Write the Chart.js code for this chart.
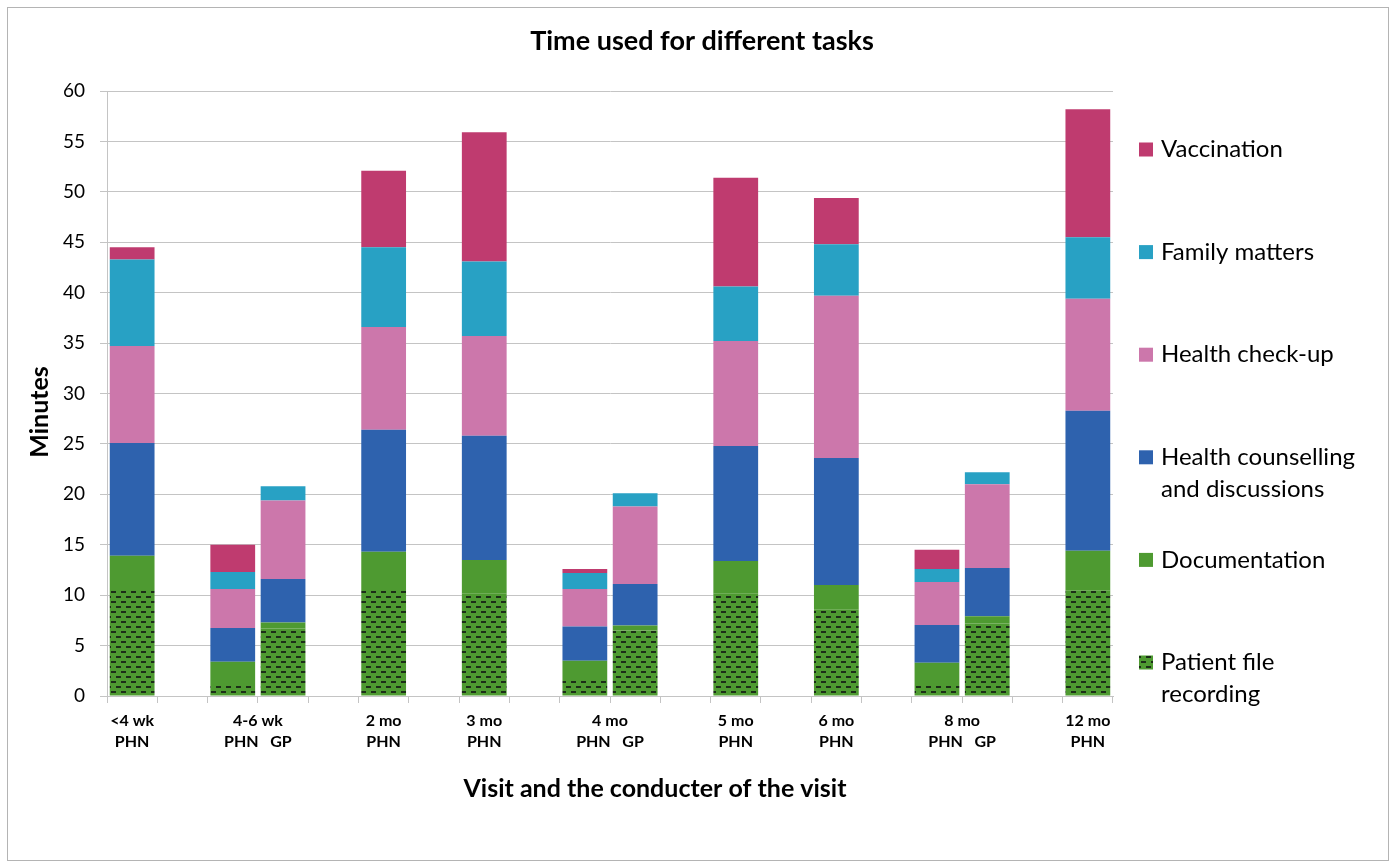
<!DOCTYPE html>
<html>
<head>
<meta charset="utf-8">
<title>Time used for different tasks</title>
<script src="https://cdn.jsdelivr.net/npm/chart.js@4.4.1/dist/chart.umd.min.js"></script>
<style>
  html, body { margin: 0; padding: 0; background: #ffffff; }
  #wrap { position: relative; width: 1396px; height: 867px; }
</style>
</head>
<body>
<div id="wrap"><canvas id="chart" width="1396" height="867"></canvas></div>
<script>
// One entry per bar: the visit and who conducted it
const visits     = ['<4 wk', '4-6 wk', '4-6 wk', '2 mo', '3 mo', '4 mo', '4 mo', '5 mo', '6 mo', '8 mo', '8 mo', '12 mo'];
const conductors = ['PHN', 'PHN', 'GP', 'PHN', 'PHN', 'PHN', 'GP', 'PHN', 'PHN', 'PHN', 'GP', 'PHN'];

// Minutes per task (stacked bottom to top)
const patientFile   = [10.7, 1.0, 6.7, 10.6, 10.2, 1.5, 6.5, 10.2, 8.6, 1.1, 7.2, 10.5];
const documentation = [3.2, 2.4, 0.6, 3.7, 3.3, 2.0, 0.5, 3.2, 2.4, 2.2, 0.7, 3.9];
const counselling   = [11.2, 3.35, 4.3, 12.1, 12.3, 3.4, 4.1, 11.4, 12.6, 3.75, 4.8, 13.9];
const checkup       = [9.6, 3.85, 7.8, 10.2, 9.9, 3.7, 7.7, 10.4, 16.1, 4.25, 8.3, 11.1];
const family        = [8.6, 1.7, 1.4, 7.9, 7.4, 1.6, 1.3, 5.4, 5.1, 1.3, 1.2, 6.1];
const vaccination   = [1.2, 2.7, 0, 7.6, 12.8, 0.4, 0, 10.8, 4.6, 1.9, 0, 12.7];

const seriesNames = ['Patient file\nrecording', 'Documentation', 'Health counselling\nand discussions',
                     'Health check-up', 'Family matters', 'Vaccination'];
const seriesValues = [patientFile, documentation, counselling, checkup, family, vaccination];
const seriesColors = ['#4e9a31', '#4e9a31', '#2e62ae', '#cc77ab', '#28a1c4', '#bf3b6f'];

const yMin = 0, yMax = 60, yStep = 5;

const chartTitle = 'Time used for different tasks';
const xTitle = 'Visit and the conducter of the visit';
const yTitle = 'Minutes';

// Dashed-horizontal fill used for patient file recording
function dashPattern(bg, fg) {
  const t = document.createElement('canvas');
  t.width = 10; t.height = 10;
  const g = t.getContext('2d');
  g.fillStyle = bg; g.fillRect(0, 0, 10, 10);
  g.fillStyle = fg;
  g.fillRect(1, 1, 5, 2);
  g.fillRect(6, 6, 4, 2);
  g.fillRect(0, 6, 1, 2);
  return document.createElement('canvas').getContext('2d').createPattern(t, 'repeat');
}

// Lay bars into category slots, with an empty slot between visits
const slotLabels = [];
const slotBar = [];
visits.forEach((v, i) => {
  if (i > 0 && v !== visits[i - 1]) { slotLabels.push(''); slotBar.push(-1); }
  slotLabels.push(conductors[i]);
  slotBar.push(i);
});

const datasets = seriesValues.map((vals, s) => ({
  label: seriesNames[s].replace('\n', ' '),
  data: slotBar.map(b => (b < 0 || !vals[b]) ? null : vals[b]),
  backgroundColor: s === 0 ? dashPattern(seriesColors[0], '#1c2e18') : seriesColors[s],
  borderWidth: 0,
  categoryPercentage: 1.0,
  barPercentage: 0.89,
  stack: 'time'
}));

const gridGray = '#c4c4c4';

const decorations = {
  id: 'decorations',
  beforeDraw(chart) {
    const ctx = chart.ctx;
    ctx.save();
    ctx.fillStyle = '#ffffff';
    ctx.fillRect(0, 0, chart.width, chart.height);
    ctx.strokeStyle = '#b4b4b4';
    ctx.lineWidth = 1;
    ctx.strokeRect(7.5, 7.5, 1381, 853);
    ctx.restore();
  },
  afterDraw(chart) {
    const ctx = chart.ctx;
    const xs = chart.scales.x;
    ctx.save();
    ctx.fillStyle = '#000000';
    ctx.textAlign = 'center';
    ctx.textBaseline = 'middle';

    // titles
    ctx.font = 'bold 27px Lato';
    ctx.fillText(chartTitle, 702, 41);
    ctx.font = 'bold 25px Lato';
    ctx.fillText(xTitle, 655, 789);
    ctx.save();
    ctx.translate(40, 412);
    ctx.rotate(-Math.PI / 2);
    ctx.fillText(yTitle, 0, 0);
    ctx.restore();

    // visit labels centred over their bars, conductors below
    ctx.font = 'bold 16px Lato';
    let start = 0;
    for (let i = 1; i <= visits.length; i++) {
      if (i === visits.length || visits[i] !== visits[start]) {
        const idx = [];
        for (let k = start; k < i; k++) idx.push(slotBar.indexOf(k));
        const cx = idx.reduce((a, s) => a + xs.getPixelForValue(s), 0) / idx.length;
        ctx.fillText(visits[start], cx, 721);
        ctx.fillText(conductors.slice(start, i).join('   '), cx, 742);
        start = i;
      }
    }

    // legend, top entry is the top of the stack
    ctx.textAlign = 'left';
    ctx.font = '24px Lato';
    const order = seriesNames.map((_, s) => s).reverse();
    order.forEach((s, row) => {
      const y = 149.5 + row * 102.6;
      ctx.fillStyle = datasets[s].backgroundColor;
      ctx.fillRect(1139, y - 7, 14, 14);
      ctx.fillStyle = '#000000';
      seriesNames[s].split('\n').forEach((line, j) => {
        ctx.fillText(line, 1161, y + j * 32);
      });
    });
    ctx.restore();
  }
};

new Chart(document.getElementById('chart'), {
  type: 'bar',
  data: { labels: slotLabels, datasets },
  plugins: [decorations],
  options: {
    responsive: false,
    animation: false,
    layout: { padding: { left: 0, top: 91, right: 283, bottom: 0 } },
    plugins: {
      legend: { display: false },
      title: { display: false },
      tooltip: { enabled: false }
    },
    scales: {
      x: {
        stacked: true,
        offset: true,
        ticks: { display: false },
        grid: { offset: true, drawOnChartArea: false, drawTicks: true, tickLength: 7, color: gridGray },
        border: { color: gridGray },
        afterFit(scale) { scale.height = 171; }
      },
      y: {
        stacked: true,
        min: yMin,
        max: yMax,
        ticks: { stepSize: yStep, color: '#000000', padding: 15, font: { family: 'Lato', size: 19 } },
        grid: { color: gridGray, tickLength: 7 },
        border: { color: gridGray },
        afterFit(scale) { scale.width = 107; }
      }
    }
  }
});
</script>
</body>
</html>
